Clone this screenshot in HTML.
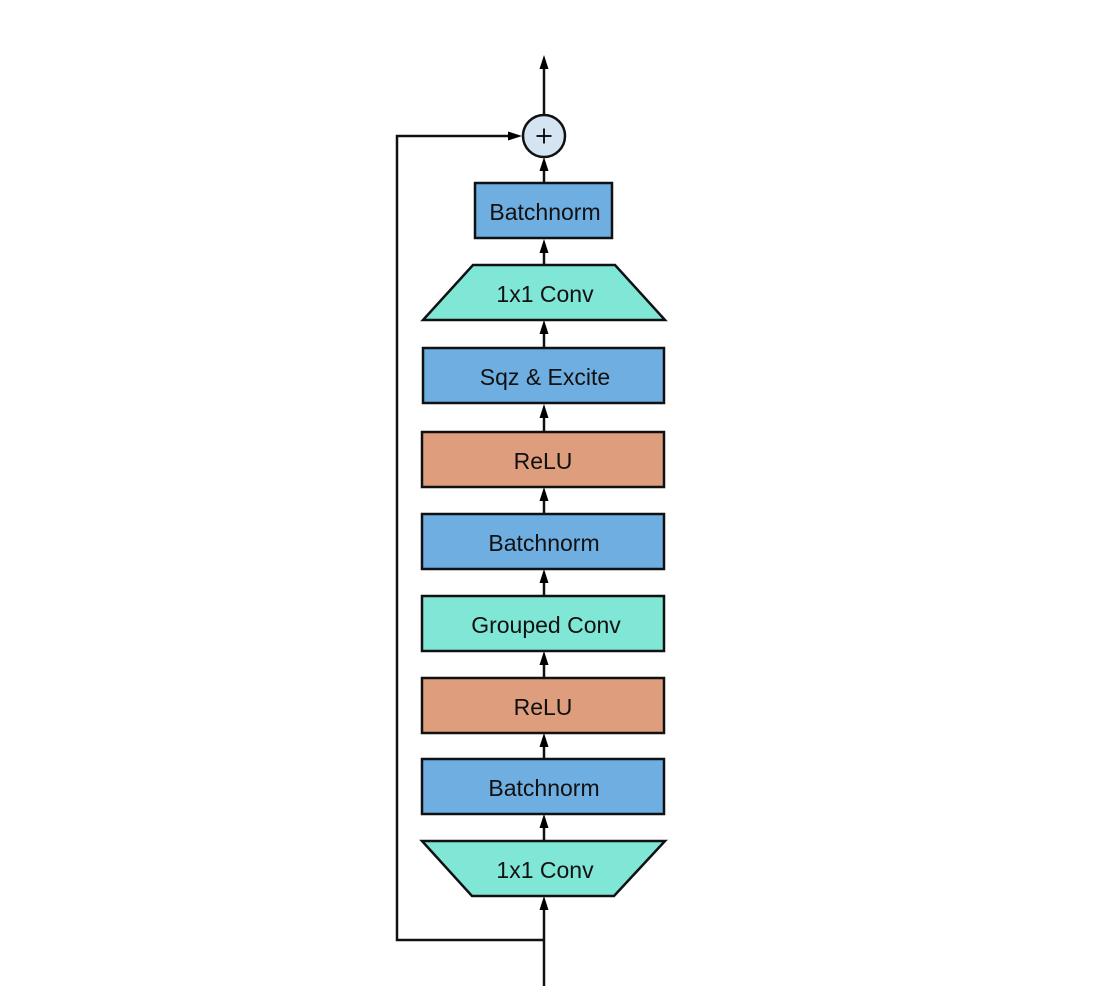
<!DOCTYPE html>
<html>
<head>
<meta charset="utf-8">
<style>
html,body{margin:0;padding:0;background:#fff;}
svg{display:block;}
text{font-family:"Liberation Sans",sans-serif;font-size:23px;fill:#111;}
</style>
</head>
<body>
<svg width="1115" height="1000" viewBox="0 0 1115 1000" xmlns="http://www.w3.org/2000/svg">
<g stroke="#111" stroke-width="2.5" fill="none">
  <line x1="544" y1="115" x2="544" y2="68"/>
  <polyline points="544,940 397,940 397,136 510,136"/>
  <line x1="544" y1="986" x2="544" y2="908"/>
  <line x1="544" y1="183" x2="544" y2="170"/>
  <line x1="544" y1="265" x2="544" y2="252"/>
  <line x1="544" y1="348" x2="544" y2="333"/>
  <line x1="544" y1="432" x2="544" y2="417"/>
  <line x1="544" y1="514" x2="544" y2="500"/>
  <line x1="544" y1="596" x2="544" y2="582"/>
  <line x1="544" y1="678" x2="544" y2="664"/>
  <line x1="544" y1="759" x2="544" y2="746"/>
  <line x1="544" y1="841" x2="544" y2="827"/>
</g>
<g fill="#000">
  <path d="M544,55 L539.5,69 L548.5,69 Z"/>
  <path d="M544,157 L539.5,171 L548.5,171 Z"/>
  <path d="M544,239 L539.5,253 L548.5,253 Z"/>
  <path d="M544,320 L539.5,334 L548.5,334 Z"/>
  <path d="M544,404 L539.5,418 L548.5,418 Z"/>
  <path d="M544,487 L539.5,501 L548.5,501 Z"/>
  <path d="M544,569 L539.5,583 L548.5,583 Z"/>
  <path d="M544,651 L539.5,665 L548.5,665 Z"/>
  <path d="M544,733 L539.5,747 L548.5,747 Z"/>
  <path d="M544,814 L539.5,828 L548.5,828 Z"/>
  <path d="M544,896 L539.5,910 L548.5,910 Z"/>
  <path d="M522,136 L508,131.5 L508,140.5 Z"/>
</g>
<g stroke="#111" stroke-width="2.5">
  <circle cx="544" cy="136" r="21" fill="#D5E4F3"/>
  <rect x="475" y="183" width="137" height="55" fill="#6FAEE1"/>
  <polygon points="473,265 615,265 665,320 423,320" fill="#80E6D6"/>
  <rect x="423" y="348" width="241" height="55" fill="#6FAEE1"/>
  <rect x="422" y="432" width="242" height="55" fill="#DE9E7E"/>
  <rect x="422" y="514" width="242" height="55" fill="#6FAEE1"/>
  <rect x="422" y="596" width="242" height="55" fill="#80E6D6"/>
  <rect x="422" y="678" width="242" height="55" fill="#DE9E7E"/>
  <rect x="422" y="759" width="242" height="55" fill="#6FAEE1"/>
  <polygon points="422,841 665,841 614,896 472,896" fill="#80E6D6"/>
</g>
<g stroke="#000" stroke-width="1.8">
  <line x1="536.5" y1="136" x2="551.5" y2="136"/>
  <line x1="544" y1="128.5" x2="544" y2="143.5"/>
</g>
<g text-anchor="middle">
  <text x="545" y="220">Batchnorm</text>
  <text x="545" y="302">1x1 Conv</text>
  <text x="545" y="385">Sqz &amp; Excite</text>
  <text x="543" y="469">ReLU</text>
  <text x="544" y="551">Batchnorm</text>
  <text x="546" y="633">Grouped Conv</text>
  <text x="543" y="715">ReLU</text>
  <text x="544" y="796">Batchnorm</text>
  <text x="545" y="878">1x1 Conv</text>
</g>
</svg>
</body>
</html>
